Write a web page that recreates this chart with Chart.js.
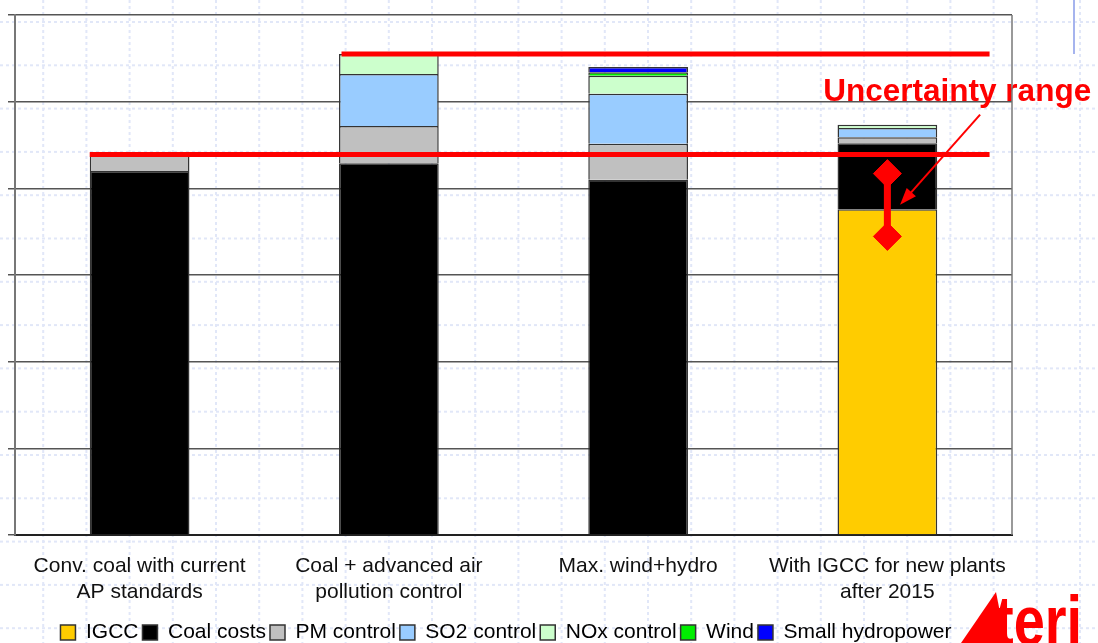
<!DOCTYPE html>
<html>
<head>
<meta charset="utf-8">
<script src="https://cdn.jsdelivr.net/npm/chart.js@4"></script>
<style>
  html, body { margin: 0; padding: 0; background: #fff; }
  #wrap { width: 1098px; height: 643px; }
</style>
</head>
<body>
<div id="wrap"><canvas id="grafico" width="1098" height="643"></canvas></div>
<script>
// ------------------ Datos -------------------------------

// categorias (eje x)
const categorias = [
    ["Conv. coal with current", "AP standards"],
    ["Coal + advanced air", "pollution control"],
    ["Max. wind+hydro"],
    ["With IGCC for new plants", "after 2015"],
];

// series apiladas (de abajo hacia arriba)
const igcc       = [null, null, null, 37.6];
const coalCosts  = [42.0, 42.9, 41.0, 7.6];
const pmControl  = [2.1, 4.3, 4.15, 0.7];
const so2Control = [null, 6.0, 5.75, 1.05];
const noxControl = [null, 2.3, 2.1, 0.4];
const wind       = [null, null, 0.4, null];
const smallHydro = [null, null, 0.6, null];

// escala del eje y
const yMin = 0;
const yMax = 60;
const yStep = 10;

// lineas rojas (x en posicion de categoria 0..4)
const lineaBaja = [{ x: 0.3, y: 43.9 }, { x: 3.91, y: 43.9 }];
const lineaAlta = [{ x: 1.31, y: 55.5 }, { x: 3.91, y: 55.5 }];

// rango de incertidumbre
const rangoIncertidumbre = [{ x: 3.5, y: 41.7 }, { x: 3.5, y: 34.45 }];
const flechaDesde = { x: 3.872, y: 48.5 };
const flechaHasta = { x: 3.551, y: 38.1 };
const textoIncertidumbre = { x: 3.243, y: 50.1, text: "Uncertainty range" };

// ------------------ Plugins -------------------------------

const FUENTE = '"Liberation Sans", Arial, sans-serif';

// fondo de la diapositiva con cuadricula punteada
const fondo = {
    id: "fondo",
    beforeDraw(chart) {
        const ctx = chart.ctx;
        ctx.save();
        ctx.fillStyle = "#fff";
        ctx.fillRect(0, 0, chart.width, chart.height);
        ctx.strokeStyle = "#e1e7f8";
        ctx.lineWidth = 2;
        ctx.setLineDash([3, 3]);
        for (let x = 43.2; x < chart.width; x += 43.2) {
            ctx.beginPath();
            ctx.moveTo(x, 0);
            ctx.lineTo(x, chart.height);
            ctx.stroke();
        }
        for (let y = 22; y < chart.height; y += 43.3) {
            ctx.beginPath();
            ctx.moveTo(0, y);
            ctx.lineTo(chart.width, y);
            ctx.stroke();
        }
        ctx.restore();
    },
    afterDraw(chart) {
        const ctx = chart.ctx;
        const a = chart.chartArea;
        ctx.save();
        // borde derecho del area del grafico
        ctx.strokeStyle = "#777";
        ctx.lineWidth = 1.5;
        ctx.beginPath();
        ctx.moveTo(a.right, a.top);
        ctx.lineTo(a.right, a.bottom);
        ctx.stroke();
        // linea azul de la diapositiva
        ctx.strokeStyle = "#a6b4ee";
        ctx.lineWidth = 2;
        ctx.beginPath();
        ctx.moveTo(1074, 0);
        ctx.lineTo(1074, 54);
        ctx.stroke();
        // logo
        ctx.fillStyle = "#ff0000";
        ctx.beginPath();
        ctx.moveTo(961, 643);
        ctx.lineTo(996, 592);
        ctx.lineTo(1006, 643);
        ctx.closePath();
        ctx.fill();
        ctx.translate(995, 645);
        ctx.scale(0.8, 1);
        ctx.font = "bold 70px " + FUENTE;
        ctx.textBaseline = "alphabetic";
        ctx.fillText("teri", 0, 0);
        ctx.restore();
    },
};

// flecha y texto de incertidumbre
const anotaciones = {
    id: "anotaciones",
    afterDatasetsDraw(chart) {
        const ctx = chart.ctx;
        const sx = chart.scales.x2;
        const sy = chart.scales.y2;
        const x1 = sx.getPixelForValue(flechaDesde.x);
        const y1 = sy.getPixelForValue(flechaDesde.y);
        const x2 = sx.getPixelForValue(flechaHasta.x);
        const y2 = sy.getPixelForValue(flechaHasta.y);
        const ang = Math.atan2(y2 - y1, x2 - x1);
        ctx.save();
        ctx.strokeStyle = "#ff0000";
        ctx.fillStyle = "#ff0000";
        ctx.lineWidth = 2;
        ctx.beginPath();
        ctx.moveTo(x1, y1);
        ctx.lineTo(x2 - Math.cos(ang) * 10, y2 - Math.sin(ang) * 10);
        ctx.stroke();
        ctx.beginPath();
        ctx.moveTo(x2, y2);
        ctx.lineTo(x2 - Math.cos(ang - 0.35) * 18, y2 - Math.sin(ang - 0.35) * 18);
        ctx.lineTo(x2 - Math.cos(ang + 0.35) * 18, y2 - Math.sin(ang + 0.35) * 18);
        ctx.closePath();
        ctx.fill();

        ctx.font = "bold 31.5px " + FUENTE;
        ctx.textBaseline = "alphabetic";
        ctx.textAlign = "left";
        ctx.fillText(
            textoIncertidumbre.text,
            sx.getPixelForValue(textoIncertidumbre.x),
            sy.getPixelForValue(textoIncertidumbre.y)
        );
        ctx.restore();
    },
};

// ------------------ Grafico -------------------------------

function serie(label, data, color) {
    return {
        type: "bar",
        label: label,
        data: data,
        stack: "costos",
        grouped: false,
        backgroundColor: color,
        borderColor: "#333",
        borderWidth: 1.5,
        xAxisID: "x",
        yAxisID: "y",
        categoryPercentage: 1,
        barPercentage: 0.4,
    };
}

function linea(label, data, extra) {
    return Object.assign({
        type: "line",
        label: label,
        data: data,
        borderColor: "#ff0000",
        backgroundColor: "#ff0000",
        borderWidth: 5,
        pointRadius: 0,
        xAxisID: "x2",
        yAxisID: "y2",
        order: -1,
        fill: false,
    }, extra || {});
}

Chart.defaults.font.family = FUENTE;

const grafico = new Chart(document.getElementById("grafico").getContext("2d"), {
    data: {
        labels: categorias,
        datasets: [
            serie("IGCC", igcc, "#ffcc00"),
            serie("Coal costs", coalCosts, "#000000"),
            serie("PM control", pmControl, "#c0c0c0"),
            serie("SO2 control", so2Control, "#99ccff"),
            serie("NOx control", noxControl, "#ccffcc"),
            serie("Wind", wind, "#00ee00"),
            serie("Small hydropower", smallHydro, "#0000ff"),
            linea("lineaBaja", lineaBaja),
            linea("lineaAlta", lineaAlta),
            linea("incertidumbre", rangoIncertidumbre, {
                borderWidth: 7,
                pointRadius: 14,
                pointStyle: "rectRot",
                pointBorderWidth: 1,
            }),
        ],
    },
    options: {
        responsive: false,
        animation: false,
        layout: { padding: { top: 14, right: 86, left: 0, bottom: -10 } },
        scales: {
            x: {
                type: "category",
                stacked: true,
                offset: true,
                grid: { display: false, drawTicks: false },
                border: { color: "#222", width: 2 },
                ticks: {
                    color: "#111",
                    font: { size: 21, lineHeight: 1.24 },
                    padding: 18,
                    maxRotation: 0,
                    autoSkip: false,
                },
                afterFit(s) { s.height = 83; },
            },
            x2: { type: "linear", min: 0, max: 4, offset: false, display: false },
            y: {
                stacked: true,
                min: yMin,
                max: yMax,
                ticks: { stepSize: yStep, display: false },
                grid: { color: "#555", lineWidth: 1.5, tickLength: 7 },
                border: { color: "#777", width: 2 },
                afterFit(s) { s.width = 14; },
            },
            y2: { type: "linear", min: yMin, max: yMax, display: false },
        },
        plugins: {
            tooltip: { enabled: false },
            legend: {
                position: "bottom",
                labels: {
                    color: "#000",
                    font: { size: 21 },
                    boxWidth: 15,
                    boxHeight: 15,
                    padding: 4,
                    filter: (item) => item.datasetIndex < 7,
                },
            },
        },
    },
    plugins: [fondo, anotaciones],
});
</script>
</body>
</html>
